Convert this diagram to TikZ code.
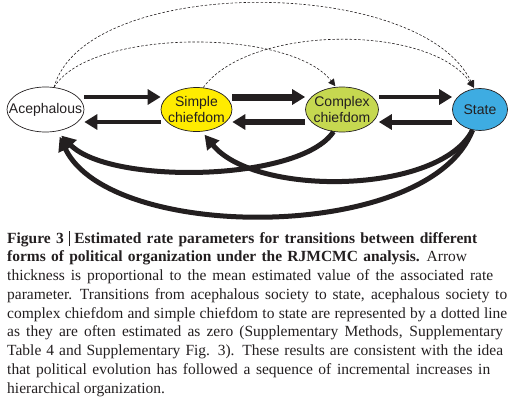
\documentclass[tikz,border=0pt]{standalone}
\usepackage{fontspec}
\setmainfont{Liberation Serif}
\newfontfamily\lsans{Liberation Sans}
\usetikzlibrary{arrows.meta,shapes.geometric,calc}
\definecolor{simpleY}{RGB}{255,236,0}
\definecolor{complexG}{RGB}{198,216,80}
\definecolor{stateB}{RGB}{62,172,226}
\definecolor{ink}{RGB}{35,31,32}
\newcommand{\capline}[2]{\makebox[#1pt][s]{#2}}
\newcommand{\tightsp}{\spaceskip=3.6pt plus 4pt minus 1.6pt\relax}
\begin{document}
\begin{tikzpicture}[x=1pt,y=-1pt,
  stnode/.style={ellipse, draw=ink, line width=0.7pt, inner sep=0pt},
  lab/.style={font=\lsans\fontsize{14}{16}\selectfont, align=center, text=ink, inner sep=0pt},
  fat/.style={draw=ink, line width=#1, -{Triangle[length=13pt,width=15pt]}},
  fatc/.style={draw=ink, line width=5pt, -{Triangle[length=14pt,width=15pt]}},
  dashedarc/.style={draw=ink, line width=0.6pt, dash pattern=on 2.5pt off 1.8pt, -{Triangle[length=7pt,width=7pt]}}
]
\useasboundingbox (0,0) rectangle (515,407);
\node[stnode, minimum width=77pt, minimum height=45pt] (A) at (45.5,109.5) {};
\node[stnode, fill=simpleY, minimum width=71pt, minimum height=44pt] (S) at (196.5,109.5) {};
\node[stnode, fill=complexG, minimum width=73pt, minimum height=45pt] (C) at (342,109.5) {};
\node[stnode, fill=stateB, minimum width=55pt, minimum height=42pt] (T) at (480,109.5) {};
\node[lab] (At) at (A) {Acephalous};
\node[lab] (St) at (S) {Simple\\chiefdom};
\node[lab] (Ct) at (C) {Complex\\chiefdom};
\node[lab] (Tt) at (T) {State};
% forward
\draw[fat=4.5pt] ($(A.east)+(0,-12.5)$) -- ($(S.west)+(0,-12.5)$);
\draw[fat=7pt] ($(S.east)+(0,-12.5)$) -- ($(C.west)+(0,-12.5)$);
\draw[fat=4.5pt] ($(C.east)+(0,-12.5)$) -- ($(T.west)+(0,-12.5)$);
% backward
\draw[fat=4.5pt] ($(S.west)+(0,12.5)$) -- ($(A.east)+(0,12.5)$);
\draw[fat=6pt] ($(C.west)+(0,12.5)$) -- ($(S.east)+(0,12.5)$);
\draw[fat=5pt] ($(T.west)+(0,12.5)$) -- ($(C.east)+(0,12.5)$);
% dashed
\draw[dashedarc, shorten >=1pt] (A.69) .. controls (85,-25) and (420,-25) .. (T.105);
\draw[dashedarc, shorten >=1pt] (A.69) .. controls (90,28) and (290,28) .. (C.105);
\draw[dashedarc, shorten >=1pt] (S.73) .. controls (250,24) and (430,24) .. (T.105);
% bottom curves
\draw[fatc, shorten >=6pt] (C.249) .. controls (300,182) and (110,185) .. (A.298);
\draw[fatc, shorten >=4pt] (T.250) .. controls (440,195) and (255,197) .. (S.284);
\draw[fatc, shorten >=6pt] (T.250) .. controls (430,243) and (110,243) .. (A.298);
% caption
\node[anchor=north west, inner sep=0pt, text width=510pt, align=left, text=ink,
  font=\fontsize{15.5}{18.75}\selectfont] (cap) at (7,231)
{\tightsp\capline{470}{\textbf{Figure 3}\hspace{5pt}\rule[-3pt]{0.5pt}{15pt}\hspace{5pt}\textbf{Estimated rate parameters for transitions between different}}\\
\capline{460}{\textbf{forms of political organization under the RJMCMC analysis.}\hspace{7pt}Arrow}\\
\capline{486}{thickness is proportional to the mean estimated value of the associated rate}\\
\capline{500}{parameter. Transitions from acephalous society to state, acephalous society to}\\
\capline{500}{complex chiefdom and simple chiefdom to state are represented by a dotted line}\\
\capline{496}{as they are often estimated as zero (Supplementary Methods, Supplementary}\\
\capline{496}{Table 4 and Supplementary Fig. 3). These results are consistent with the idea}\\
\capline{483}{that political evolution has followed a sequence of incremental increases in}\\
hierarchical organization.};
\end{tikzpicture}
\end{document}
